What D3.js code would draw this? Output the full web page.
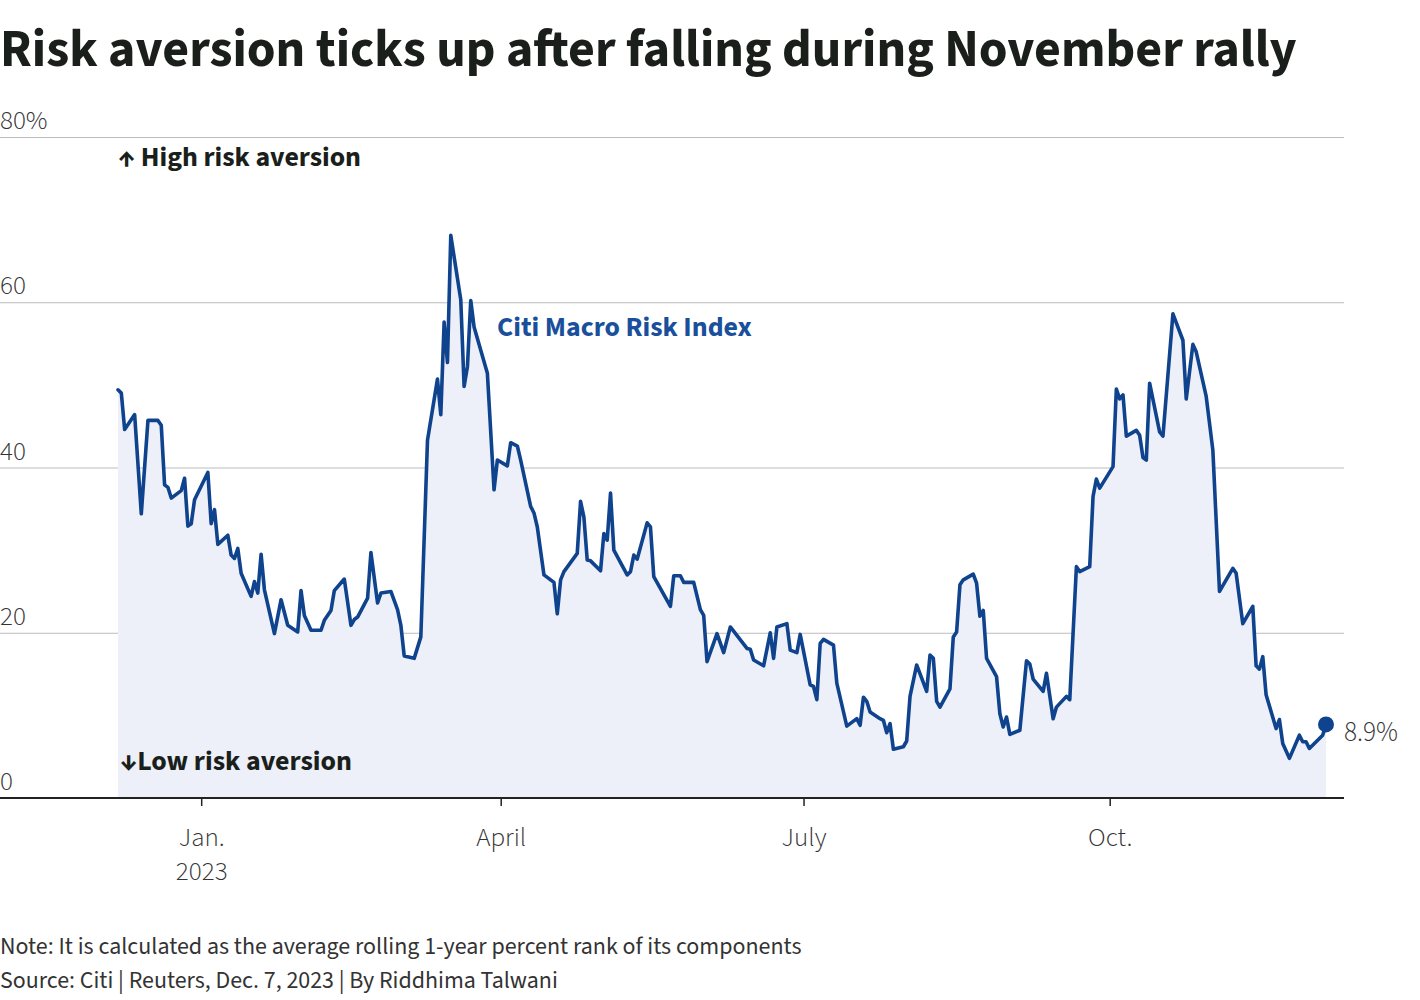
<!DOCTYPE html>
<html><head><meta charset="utf-8">
<script src="https://cdn.jsdelivr.net/npm/d3@7"></script>
<style>body{margin:0;background:#fff} svg{display:block}</style>
</head><body>
<svg id="chart" width="1420" height="1000"></svg>
<script>
// ---- Data ----
const dates = [
"2022-12-07","2022-12-08","2022-12-09","2022-12-12","2022-12-14","2022-12-16","2022-12-19","2022-12-20","2022-12-21","2022-12-22",
"2022-12-23","2022-12-26","2022-12-27","2022-12-28","2022-12-29","2022-12-30","2023-01-03","2023-01-04","2023-01-05","2023-01-06",
"2023-01-09","2023-01-10","2023-01-11","2023-01-12","2023-01-13","2023-01-16","2023-01-17","2023-01-18","2023-01-19","2023-01-20",
"2023-01-23","2023-01-25","2023-01-27","2023-01-30","2023-01-31","2023-02-01","2023-02-03","2023-02-06","2023-02-07","2023-02-09",
"2023-02-10","2023-02-13","2023-02-15","2023-02-16","2023-02-17","2023-02-20","2023-02-21","2023-02-23","2023-02-24","2023-02-27",
"2023-03-01","2023-03-02","2023-03-03","2023-03-06","2023-03-08","2023-03-10","2023-03-13","2023-03-14","2023-03-15","2023-03-16",
"2023-03-17","2023-03-20","2023-03-21","2023-03-22","2023-03-23","2023-03-24","2023-03-28","2023-03-30","2023-03-31","2023-04-03",
"2023-04-04","2023-04-06","2023-04-07","2023-04-10","2023-04-11","2023-04-12","2023-04-14","2023-04-17","2023-04-18","2023-04-19",
"2023-04-20","2023-04-24","2023-04-25","2023-04-26","2023-04-27","2023-04-28","2023-05-01","2023-05-02","2023-05-03","2023-05-04",
"2023-05-05","2023-05-09","2023-05-10","2023-05-11","2023-05-12","2023-05-15","2023-05-16","2023-05-17","2023-05-22","2023-05-23",
"2023-05-25","2023-05-26","2023-05-29","2023-05-31","2023-06-01","2023-06-02","2023-06-05","2023-06-07","2023-06-09","2023-06-14",
"2023-06-15","2023-06-16","2023-06-19","2023-06-21","2023-06-22","2023-06-23","2023-06-26","2023-06-27","2023-06-29","2023-06-30",
"2023-07-03","2023-07-04","2023-07-05","2023-07-06","2023-07-07","2023-07-10","2023-07-11","2023-07-14","2023-07-17","2023-07-18",
"2023-07-19","2023-07-20","2023-07-21","2023-07-24","2023-07-25","2023-07-26","2023-07-27","2023-07-28","2023-07-31","2023-08-01",
"2023-08-02","2023-08-04","2023-08-07","2023-08-08","2023-08-09","2023-08-10","2023-08-11","2023-08-14","2023-08-15","2023-08-16",
"2023-08-17","2023-08-18","2023-08-21","2023-08-22","2023-08-23","2023-08-24","2023-08-25","2023-08-28","2023-08-29","2023-08-30",
"2023-08-31","2023-09-01","2023-09-04","2023-09-06","2023-09-07","2023-09-08","2023-09-11","2023-09-12","2023-09-14","2023-09-15",
"2023-09-18","2023-09-19","2023-09-21","2023-09-22","2023-09-25","2023-09-26","2023-09-27","2023-09-28","2023-10-02","2023-10-03",
"2023-10-04","2023-10-05","2023-10-06","2023-10-09","2023-10-10","2023-10-11","2023-10-12","2023-10-13","2023-10-16","2023-10-17",
"2023-10-20","2023-10-23","2023-10-24","2023-10-26","2023-10-27","2023-10-30","2023-11-01","2023-11-03","2023-11-07","2023-11-08",
"2023-11-10","2023-11-13","2023-11-14","2023-11-15","2023-11-16","2023-11-17","2023-11-20","2023-11-21","2023-11-22","2023-11-24",
"2023-11-27","2023-11-28","2023-11-29","2023-11-30","2023-12-04","2023-12-05"
];
const values = [
49.4,49.0,44.6,46.4,34.4,45.7,45.7,45.1,37.9,37.6,
36.3,37.2,38.7,32.9,33.2,36.1,39.4,33.2,34.9,30.7,
31.8,29.4,29.0,30.2,27.2,24.4,26.2,24.8,29.5,25.2,
19.9,24.0,20.9,20.1,25.1,22.1,20.3,20.3,21.5,22.7,
25.1,26.5,20.9,21.6,21.9,24.2,29.7,23.6,24.8,25.0,
22.8,20.9,17.2,16.9,19.5,43.3,50.7,46.4,57.6,52.7,
68.1,60.3,49.8,52.2,60.2,57.0,51.4,37.3,40.9,40.2,
43.0,42.6,40.9,35.3,34.5,32.8,27.0,26.1,22.3,26.4,
27.4,29.6,35.9,34.0,28.8,28.7,27.5,32.0,31.2,36.9,
30.0,27.0,27.4,29.4,28.9,33.3,32.8,26.8,23.2,26.9,
26.9,26.1,26.1,22.8,22.1,16.5,19.9,17.6,20.7,18.1,
18.0,16.7,16.0,20.0,16.9,20.7,21.1,17.9,17.6,19.8,
13.7,13.5,11.9,18.7,19.2,18.5,13.9,8.7,9.6,8.8,
12.2,11.7,10.4,9.6,9.4,7.9,9.0,5.9,6.2,6.9,
12.3,16.1,12.9,17.3,16.9,11.7,11.0,13.2,19.5,20.1,
25.8,26.4,27.1,26.0,22.0,22.7,16.9,14.7,10.2,8.6,
9.8,7.7,8.2,16.6,16.2,14.4,12.9,15.1,9.6,11.0,
12.3,11.9,28.0,27.4,28.0,36.5,38.6,37.5,40.1,49.5,
48.3,48.8,43.8,44.5,43.9,41.2,40.9,50.2,44.3,43.8,
58.6,55.4,48.3,54.9,54.0,48.6,42.1,25.0,27.8,27.2,
21.1,23.2,16.0,15.6,17.1,12.5,8.4,9.5,6.6,4.8,
7.6,6.8,6.8,6.0,7.6,8.9
];
const yTicks = [0, 20, 40, 60, 80];
const yTickLabels = ["0", "20", "40", "60", "80%"];
const xTickDates = ["2023-01-01", "2023-04-01", "2023-07-01", "2023-10-01"];
const xTickLabels = [["Jan.", "2023"], ["April"], ["July"], ["Oct."]];
const titleText = "Risk aversion ticks up after falling during November rally";
const seriesLabel = "Citi Macro Risk Index";
const highLabel = "\u2191 High risk aversion";
const lowLabel = "\u2193Low risk aversion";
const endLabel = "8.9%";
const noteText = "Note: It is calculated as the average rolling 1-year percent rank of its components";
const sourceText = "Source: Citi | Reuters, Dec. 7, 2023 | By Riddhima Talwani";

// ---- Chart ----
const FONT = "'Source Sans Pro','Source Sans 3',Lato,'Noto Sans',sans-serif";
const BLUE = "#0f438d";
const parse = d3.utcParse("%Y-%m-%d");
const data = dates.map((d, i) => ({ date: parse(d), value: values[i] }));

const svg = d3.select("#chart").style("font-family", FONT);

const x = d3.scaleUtc()
  .domain([parse("2022-12-07"), parse("2023-12-05")])
  .range([118, 1326]);
const y = d3.scaleLinear().domain([0, 80]).range([798, 137]);
const plotLeft = 0, plotRight = 1344;

function fit(sel, target) {
  const n = sel.node();
  const w = n.getComputedTextLength();
  const fs = parseFloat(sel.attr("font-size"));
  if (w > 0) sel.attr("font-size", (fs * target / w).toFixed(2));
  return sel;
}

// title
fit(svg.append("text").attr("x", 0).attr("y", 66)
  .attr("font-size", 48).attr("font-weight", 700).attr("fill", "#1b1f1b")
  .text(titleText), 1297);

// gridlines
svg.append("g").selectAll("line").data(yTicks.filter(t => t > 0)).join("line")
  .attr("x1", plotLeft).attr("x2", plotRight)
  .attr("y1", d => y(d) + 0.5).attr("y2", d => y(d) + 0.5)
  .attr("stroke", "#bcbcbc").attr("stroke-width", 1);

// y labels
svg.append("g").selectAll("text").data(yTicks).join("text")
  .attr("x", 0).attr("y", d => y(d) - 8)
  .attr("font-size", 27).attr("font-weight", 300).attr("fill", "#333")
  .text((d, i) => yTickLabels[i]);

// area + line
svg.append("path").datum(data)
  .attr("fill", "#edf0f8")
  .attr("d", d3.area().x(d => x(d.date)).y0(y(0)).y1(d => y(d.value)));

svg.append("path").datum(data)
  .attr("fill", "none").attr("stroke", BLUE).attr("stroke-width", 3.6)
  .attr("stroke-linejoin", "round").attr("stroke-linecap", "round")
  .attr("d", d3.line().x(d => x(d.date)).y(d => y(d.value)));

// end point
const last = data[data.length - 1];
svg.append("circle").attr("cx", x(last.date)).attr("cy", y(last.value)).attr("r", 8).attr("fill", BLUE);
fit(svg.append("text").attr("x", x(last.date) + 18).attr("y", y(last.value) + 17)
  .attr("font-size", 24).attr("font-weight", 300).attr("fill", "#333").text(endLabel), 54);

// x axis
const xAxis = d3.axisBottom(x)
  .tickValues(xTickDates.map(parse))
  .tickSize(8).tickPadding(0)
  .tickFormat(() => "");
const gx = svg.append("g").attr("transform", `translate(0,${y(0)})`).call(xAxis);
gx.select(".domain").remove();
gx.selectAll(".tick line").attr("stroke", "#222").attr("stroke-width", 1.5);
gx.selectAll(".tick").each(function (d, i) {
  const t = d3.select(this).select("text")
    .attr("y", 0).attr("dy", null)
    .attr("font-family", FONT).attr("font-size", 27).attr("font-weight", 300)
    .attr("fill", "#333").attr("text-anchor", "middle");
  xTickLabels[i].forEach((s, k) => {
    t.append("tspan").attr("x", 0).attr("y", 48 + k * 34).text(s);
  });
});
svg.append("line").attr("x1", plotLeft).attr("x2", plotRight)
  .attr("y1", y(0)).attr("y2", y(0)).attr("stroke", "#222").attr("stroke-width", 2);

// annotations
fit(svg.append("text").attr("x", 497).attr("y", 336)
  .attr("font-size", 24).attr("font-weight", 700).attr("fill", "#1a4f9c").text(seriesLabel), 255);
fit(svg.append("text").attr("x", 118).attr("y", 166)
  .attr("font-size", 24).attr("font-weight", 700).attr("fill", "#1b1f1b").text(highLabel), 243);
fit(svg.append("text").attr("x", 120).attr("y", 770)
  .attr("font-size", 24).attr("font-weight", 700).attr("fill", "#1b1f1b").text(lowLabel), 232);

// footer
fit(svg.append("text").attr("x", 0).attr("y", 954)
  .attr("font-size", 22).attr("fill", "#333").text(noteText), 802);
fit(svg.append("text").attr("x", 0).attr("y", 988)
  .attr("font-size", 22).attr("fill", "#333").text(sourceText), 558);
</script>
</body></html>
